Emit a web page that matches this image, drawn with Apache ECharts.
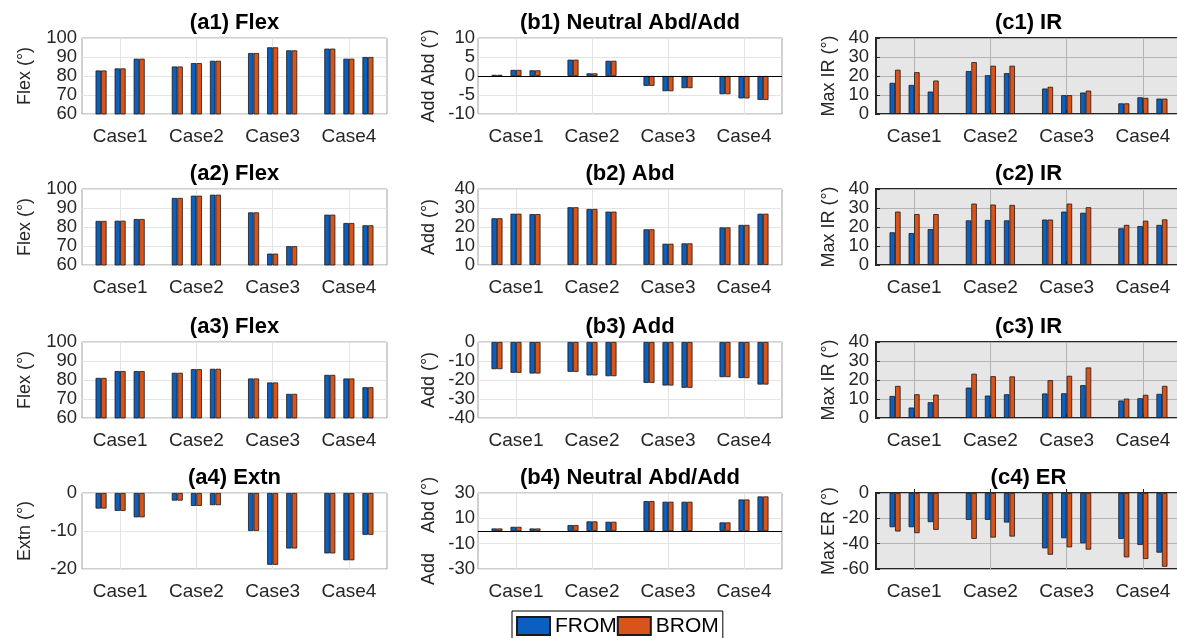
<!DOCTYPE html>
<html><head><meta charset="utf-8">
<script src="https://cdn.jsdelivr.net/npm/echarts@6/dist/echarts.min.js"></script>
<style>html,body{margin:0;padding:0;background:#fff}#c{width:1177px;height:638px}</style>
</head><body><div id="c"></div>
<script>
const cases = ['Case1', 'Case2', 'Case3', 'Case4'];
const seriesNames = ['FROM', 'BROM'];
const titles = ['(a1) Flex', '(a2) Flex', '(a3) Flex', '(a4) Extn',
  '(b1) Neutral Abd/Add', '(b2) Abd', '(b3) Add', '(b4) Neutral Abd/Add',
  '(c1) IR', '(c2) IR', '(c3) IR', '(c4) ER'];
const yNames = ['Flex (°)', 'Flex (°)', 'Flex (°)', 'Extn (°)',
  'Add Abd (°)', 'Add (°)', 'Add (°)', 'Add    Abd (°)',
  'Max IR (°)', 'Max IR (°)', 'Max IR (°)', 'Max ER (°)'];
const yMin = [60, 60, 60, -20, -10, 0, -40, -30, 0, 0, 0, -60];
const yMax = [100, 100, 100, 0, 10, 40, 0, 30, 40, 40, 40, 0];
const yStep = [10, 10, 10, 10, 5, 10, 10, 10, 10, 10, 10, 20];
const b4TickLabels = [-30, -10, 10, 30];

// values: 4 cases x 3 sub-bars each
const a1From = [82.9, 84.0, 89.1, 85.0, 86.8, 88.0, 92.1, 95.1, 93.5, 94.4, 89.1, 90.0];
const a1Brom = [82.9, 84.0, 89.1, 85.0, 86.8, 88.0, 92.1, 95.1, 93.5, 94.4, 89.1, 90.0];
const a2From = [83.2, 83.3, 84.2, 95.3, 96.5, 97.0, 87.7, 66.0, 69.9, 86.5, 82.1, 80.9];
const a2Brom = [83.2, 83.3, 84.2, 95.3, 96.5, 97.0, 87.7, 66.0, 69.9, 86.5, 82.1, 80.9];
const a3From = [81.1, 84.7, 84.7, 83.8, 85.7, 85.9, 80.8, 78.7, 72.7, 82.7, 80.8, 76.2];
const a3Brom = [81.1, 84.7, 84.7, 83.8, 85.7, 85.9, 80.8, 78.7, 72.7, 82.7, 80.8, 76.2];
const a4From = [-4.1, -4.7, -6.4, -2.0, -3.4, -3.2, -10.0, -18.9, -14.6, -15.9, -17.7, -11.0];
const a4Brom = [-4.1, -4.7, -6.4, -2.0, -3.4, -3.2, -10.0, -18.9, -14.6, -15.9, -17.7, -11.0];
const b1From = [0.3, 1.6, 1.5, 4.3, 0.7, 4.0, -2.6, -4.0, -3.2, -4.8, -5.9, -6.3];
const b1Brom = [0.3, 1.6, 1.5, 4.3, 0.7, 4.0, -2.6, -4.0, -3.2, -4.8, -5.9, -6.3];
const b2From = [24.6, 27.0, 26.8, 30.4, 29.5, 28.1, 18.8, 11.2, 11.4, 19.8, 21.1, 27.0];
const b2Brom = [24.6, 27.0, 26.8, 30.4, 29.5, 28.1, 18.8, 11.2, 11.4, 19.8, 21.1, 27.0];
const b3From = [-14.3, -16.2, -16.6, -15.7, -17.6, -18.0, -21.5, -22.9, -24.1, -18.5, -19.0, -22.4];
const b3Brom = [-14.3, -16.2, -16.6, -15.7, -17.6, -18.0, -21.5, -22.9, -24.1, -18.5, -19.0, -22.4];
const b4From = [2.0, 3.3, 2.0, 4.7, 7.6, 7.3, 23.6, 23.1, 23.1, 6.8, 24.9, 27.3];
const b4Brom = [2.0, 3.3, 2.0, 4.7, 7.6, 7.3, 23.6, 23.1, 23.1, 6.8, 24.9, 27.3];
const c1From = [16.4, 15.3, 11.8, 22.6, 20.4, 21.5, 13.4, 9.9, 11.3, 5.6, 8.8, 8.1];
const c1Brom = [23.3, 22.0, 17.6, 27.3, 25.4, 25.4, 14.3, 9.9, 12.3, 5.6, 8.5, 8.1];
const c2From = [17.2, 16.8, 18.9, 23.5, 23.7, 23.5, 23.9, 28.1, 27.5, 19.3, 20.5, 21.1];
const c2Brom = [28.1, 26.8, 26.8, 32.3, 31.8, 31.6, 23.9, 32.3, 30.4, 21.1, 23.3, 24.0];
const c3From = [11.6, 5.5, 8.3, 16.0, 11.8, 12.5, 12.9, 13.0, 17.3, 9.2, 10.4, 12.7];
const c3Brom = [16.9, 12.5, 12.3, 23.3, 22.0, 21.9, 19.9, 22.2, 26.6, 10.2, 12.2, 16.9];
const c4From = [-27.0, -27.0, -23.0, -21.2, -21.2, -23.3, -43.7, -35.7, -39.7, -36.2, -41.0, -47.1];
const c4Brom = [-30.4, -31.7, -29.1, -36.2, -35.2, -34.4, -48.7, -42.9, -44.7, -50.8, -52.1, -58.2];

const panelFrom = [a1From, a2From, a3From, a4From, b1From, b2From, b3From, b4From, c1From, c2From, c3From, c4From];
const panelBrom = [a1Brom, a2Brom, a3Brom, a4Brom, b1Brom, b2Brom, b3Brom, b4Brom, c1Brom, c2Brom, c3Brom, c4Brom];

// ---- layout / style ----
const FONT = '"Liberation Sans", Arial, Helvetica, sans-serif';
const TXT = '#262626';
const BLUE = '#0b5fc1';
const ORANGE = '#d9541a';
const colLeft = [82, 478, 876];
const colWidth = [305, 304, 305];
const rowTop = [38, 189, 342, 493];
const rowHeight = [76, 76, 76, 76];
const nameGap = [48, 40, 38];
const labelMargin = [5, 3, 7];

const NSLOT = cases.length * 4 + 1;
const slotNames = [];
for (let k = 0; k < NSLOT; k++) slotNames.push(k % 4 === 2 ? cases[(k - 2) / 4] : '_' + k);
function toSlots(vals) {
  const out = [];
  for (let k = 0; k < NSLOT; k++) out.push(k % 4 === 0 ? null : vals[(k >> 2) * 3 + (k % 4) - 1]);
  return out;
}
const isCaseSlot = (i) => i % 4 === 2;

const grids = [], xAxes = [], yAxes = [], series = [], titleList = [];
for (let i = 0; i < 12; i++) {
  const col = Math.floor(i / 4), row = i % 4;
  const shaded = col === 2;
  grids.push({
    left: colLeft[col], top: rowTop[row], width: colWidth[col], height: rowHeight[row],
    containLabel: false, outerBoundsMode: 'none',
    show: true, backgroundColor: shaded ? '#e6e6e6' : '#ffffff',
    borderColor: shaded ? '#262626' : '#a0a0a0', borderWidth: shaded ? 2 : 1, z: 0
  });
  titleList.push({
    text: titles[i], left: colLeft[col] + colWidth[col] / 2, top: rowTop[row] - 26,
    textAlign: 'center', padding: 0,
    textStyle: { fontFamily: FONT, fontSize: 22, fontWeight: 'bold', color: '#000', lineHeight: 22 }
  });
  const gridColor = shaded ? '#b4b4b4' : '#e4e4e4';
  xAxes.push({
    type: 'category', gridIndex: i, data: slotNames, boundaryGap: false,
    axisLine: { show: false },
    axisTick: { show: shaded, inside: true, length: 4, interval: isCaseSlot, lineStyle: { color: TXT, width: 1 } },
    axisLabel: { interval: isCaseSlot, margin: 13, fontFamily: FONT, fontSize: 19, color: TXT, hideOverlap: false,
      formatter: (v) => (v.charAt(0) === '_' ? '' : v) },
    splitLine: { show: true, interval: isCaseSlot, lineStyle: { color: gridColor, width: 1 } }
  });
  let splitColors = gridColor;
  let fmt = (v) => String(v);
  if (i === 7) {
    splitColors = [];
    for (let v = yMin[i]; v <= yMax[i]; v += yStep[i]) splitColors.push(b4TickLabels.includes(v) ? gridColor : 'rgba(0,0,0,0)');
    fmt = (v) => (b4TickLabels.includes(v) ? String(v) : '');
  }
  yAxes.push({
    type: 'value', gridIndex: i, min: yMin[i], max: yMax[i], interval: yStep[i],
    name: yNames[i], nameLocation: 'middle', nameGap: nameGap[col],
    nameTextStyle: { fontFamily: FONT, fontSize: 18, color: TXT },
    axisLine: { show: false },
    axisTick: { show: shaded, inside: true, length: 4, lineStyle: { color: TXT, width: 1 } },
    axisLabel: { margin: labelMargin[col], fontFamily: FONT, fontSize: 18.5, lineHeight: 15, color: TXT, formatter: fmt,
      showMinLabel: true, showMaxLabel: true, hideOverlap: false },
    splitLine: { show: true, lineStyle: { color: splitColors, width: 1 } }
  });
  [panelFrom[i], panelBrom[i]].forEach((vals, s) => {
    const ser = {
      type: 'bar', name: seriesNames[s], xAxisIndex: i, yAxisIndex: i,
      data: toSlots(vals), barWidth: 5.5, barGap: '0%',
      itemStyle: { color: s === 0 ? BLUE : ORANGE, borderColor: '#1a1a1a', borderWidth: 0.8 },
      emphasis: { disabled: true }
    };
    if (s === 1 && (i === 4 || i === 7)) {
      ser.markLine = { silent: true, symbol: 'none', label: { show: false },
        lineStyle: { color: '#000', width: 1.2, type: 'solid' }, data: [{ yAxis: 0 }] };
    }
    series.push(ser);
  });
}

const chart = echarts.init(document.getElementById('c'), null, { renderer: 'canvas' });
chart.setOption({
  animation: false,
  backgroundColor: '#ffffff',
  title: titleList,
  grid: grids, xAxis: xAxes, yAxis: yAxes, series: series,
  legend: {
    data: seriesNames, left: 512, top: 611, orient: 'horizontal',
    itemWidth: 33, itemHeight: 18, itemGap: 0, icon: 'rect',
    padding: [4, 4, 4, 4], borderColor: '#000', borderWidth: 1, backgroundColor: '#fff',
    textStyle: { fontFamily: FONT, fontSize: 21, color: '#000', lineHeight: 22 }
  }
});
</script></body></html>
